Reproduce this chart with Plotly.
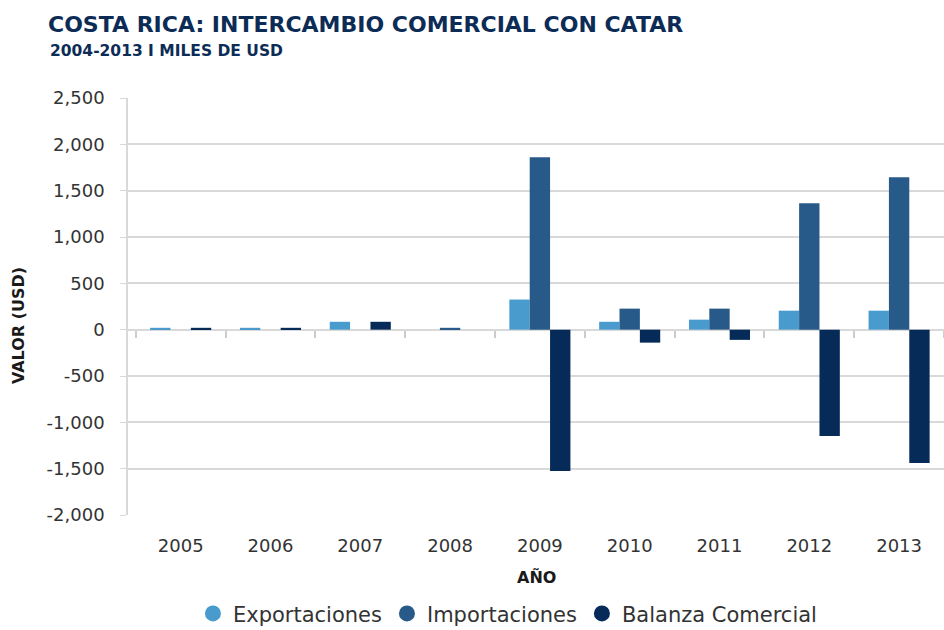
import plotly.graph_objects as go

years = ["2005", "2006", "2007", "2008", "2009", "2010", "2011", "2012", "2013"]
exportaciones = [20, 20, 85, 0, 325, 85, 108, 205, 205]
importaciones = [0, 0, 0, 20, 1860, 227, 227, 1363, 1645]
balanza = [20, 20, 85, 0, -1525, -140, -110, -1147, -1440]
y_ticks = [-2000, -1500, -1000, -500, 0, 500, 1000, 1500, 2000, 2500]
y_tick_labels = [f"{v:,}" for v in y_ticks]

series = [
    ("Exportaciones", exportaciones, "#4a9bcd"),
    ("Importaciones", importaciones, "#275a88"),
    ("Balanza Comercial", balanza, "#062b58"),
]

y_min, y_max = -2000, 2500
font_main = "DejaVu Sans"
navy = "#0c2c56"

fig = go.Figure()
for name, vals, col in series:
    fig.add_trace(go.Bar(x=years, y=vals, name=name, marker=dict(color=col, line=dict(width=0)),
                         showlegend=False))
for name, vals, col in series:
    fig.add_trace(go.Scatter(x=[years[0]], y=[None], mode="markers", name=name,
                             marker=dict(symbol="circle", size=19, color=col), showlegend=True))

# invisible trace to carry the boundary ticks on the zero line
fig.add_trace(go.Scatter(x=years, y=[0] * len(years), xaxis="x2", mode="markers",
                         marker=dict(opacity=0), showlegend=False, hoverinfo="skip"))

zero_pos = (0 - y_min) / (y_max - y_min)

fig.update_layout(
    width=944, height=630,
    margin=dict(l=128, r=0, t=98, b=115, autoexpand=False),
    paper_bgcolor="white", plot_bgcolor="white",
    barmode="group", bargap=0.32, bargroupgap=0,
    font=dict(family=font_main, color="#333333", size=18),
    title=dict(text="<b>COSTA RICA: INTERCAMBIO COMERCIAL CON CATAR</b>",
               x=48 / 944, xref="container", xanchor="left",
               y=0.962, yref="container", yanchor="middle",
               font=dict(family=font_main, size=22, color=navy)),
    xaxis=dict(type="category", showgrid=False, showline=False, zeroline=False,
               automargin=False,
               ticks="outside", ticklen=14, tickcolor="rgba(0,0,0,0)",
               tickfont=dict(size=18, color="#333333")),
    xaxis2=dict(type="category", overlaying="x", matches="x", anchor="free", position=zero_pos,
                showticklabels=False, showgrid=False, showline=False, zeroline=False,
                ticks="outside", ticklen=7, tickcolor="#cccccc", tickwidth=1.5,
                tickson="boundaries"),
    yaxis=dict(range=[y_min, y_max], tickmode="array", tickvals=y_ticks, ticktext=y_tick_labels,
               automargin=False,
               showgrid=True, gridcolor="#d9d9d9", gridwidth=1.5,
               zeroline=True, zerolinecolor="#d9d9d9", zerolinewidth=1.5,
               showline=True, linecolor="#d9d9d9", linewidth=1.5,
               ticks="outside", ticklen=6, tickcolor="#d9d9d9",
               ticklabelstandoff=12,
               tickfont=dict(size=18, color="#333333")),
    legend=dict(orientation="h", x=0.465, xanchor="center", y=-0.286, yanchor="bottom",
                font=dict(size=21, color="#333333"), itemsizing="trace",
                itemwidth=30, tracegroupgap=0),
    annotations=[
        dict(text="<b>2004-2013 I MILES DE USD</b>", xref="paper", yref="paper",
             x=-0.098, y=1.113, xanchor="left", yanchor="middle", showarrow=False,
             font=dict(family=font_main, size=15.5, color=navy)),
        dict(text="<b>VALOR (USD)</b>", xref="paper", yref="paper", x=-0.135, y=0.455,
             xanchor="center", yanchor="middle", textangle=-90, showarrow=False,
             font=dict(family=font_main, size=16, color="#1a1a1a")),
        dict(text="<b>AÑO</b>", xref="paper", yref="paper", x=0.5, y=-0.151,
             xanchor="center", yanchor="middle", showarrow=False,
             font=dict(family=font_main, size=16, color="#1a1a1a")),
    ],
)

fig.write_html("out.html", config={"displayModeBar": False},
               post_script="document.body.style.margin='0px';")
